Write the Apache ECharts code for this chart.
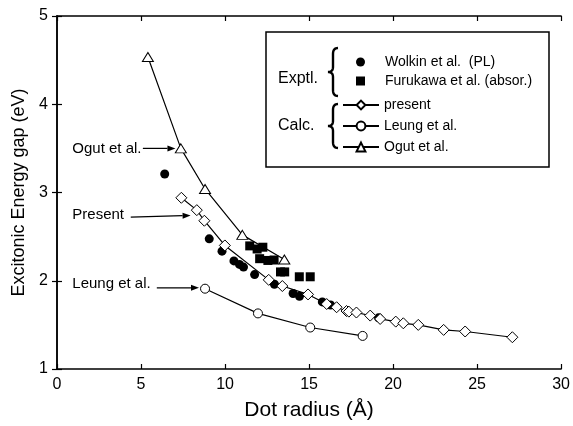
<!DOCTYPE html>
<html>
<head>
<meta charset="utf-8">
<script src="https://cdn.jsdelivr.net/npm/echarts@6/dist/echarts.min.js"></script>
<style>html,body{margin:0;padding:0;background:#fff}#c{width:573px;height:426px}</style>
</head>
<body>
<div id="c"></div>
<script>
// ---- data ----
const presentR = [7.40, 8.32, 8.77, 9.99, 12.60, 13.41, 14.94, 16.05, 16.64, 17.23, 17.37, 17.82, 18.64, 19.23, 20.16, 20.61, 21.50, 23.01, 24.29, 27.10];
const presentE = [2.94, 2.80, 2.68, 2.40, 2.01, 1.94, 1.845, 1.736, 1.70, 1.657, 1.65, 1.64, 1.605, 1.567, 1.537, 1.518, 1.50, 1.443, 1.425, 1.36];
const leungR = [8.81, 11.96, 15.07, 18.19];
const leungE = [1.91, 1.63, 1.47, 1.375];
const ogutR = [5.41, 7.37, 8.81, 11.03, 13.53];
const ogutE = [4.535, 3.50, 3.04, 2.52, 2.24];
const wolkinR = [6.41, 9.06, 9.82, 10.53, 10.86, 11.10, 11.76, 12.94, 14.05, 14.43, 15.79, 16.28, 19.14];
const wolkinE = [3.21, 2.475, 2.335, 2.225, 2.185, 2.155, 2.07, 1.96, 1.855, 1.823, 1.76, 1.725, 1.58];
const furukawaR = [11.47, 11.91, 12.25, 12.06, 12.55, 12.92, 13.30, 13.55, 14.42, 15.07];
const furukawaE = [2.395, 2.36, 2.38, 2.25, 2.23, 2.235, 2.10, 2.10, 2.045, 2.045];

const seriesNames = ['Wolkin et al.  (PL)', 'Furukawa et al. (absor.)', 'present', 'Leung et al.', 'Ogut et al.'];
// annotation labels: [text, textX, textY, arrowFromX, arrowFromY, arrowToX, arrowToY] in data units
const annotations = [
  ['Ogut et al.', 0.91, 3.50, 5.11, 3.50, 7.05, 3.50],
  ['Present', 0.91, 2.75, 4.39, 2.72, 7.95, 2.74],
  ['Leung et al.', 0.91, 1.96, 5.94, 1.92, 8.45, 1.92]
];

const zip = (a, b) => a.map((v, i) => [v, b[i]]);
const FONT = 'Liberation Sans, Arial, Helvetica, sans-serif';

const chart = echarts.init(document.getElementById('c'), null, {renderer: 'canvas'});

const axisCommon = {
  axisLine: {show: true, lineStyle: {color: '#000', width: 1.5}},
  axisTick: {show: true, inside: true, length: 5, lineStyle: {color: '#000', width: 1.2}},
  splitLine: {show: false}
};

const option = {
  backgroundColor: '#fff',
  animation: false,
  grid: {left: 57, right: 7, top: 16, bottom: 55, show: false},
  xAxis: [
    Object.assign({}, axisCommon, {
      type: 'value', min: 0, max: 30, interval: 5,
      name: 'Dot radius (Å)', nameLocation: 'middle', nameGap: 31,
      nameTextStyle: {fontFamily: FONT, fontSize: 21, color: '#000'},
      axisLabel: {fontFamily: FONT, fontSize: 16, color: '#000', margin: 8}
    }),
    Object.assign({}, axisCommon, {
      type: 'value', min: 0, max: 30, interval: 5, position: 'top',
      axisLabel: {show: false}
    })
  ],
  yAxis: [
    Object.assign({}, axisCommon, {
      type: 'value', min: 1, max: 5, interval: 1,
      name: 'Excitonic Energy gap (eV)', nameLocation: 'middle', nameGap: 29,
      nameTextStyle: {fontFamily: FONT, fontSize: 18, color: '#000'},
      axisLabel: {fontFamily: FONT, fontSize: 16, color: '#000', margin: 9}
    }),
    Object.assign({}, axisCommon, {
      type: 'value', min: 1, max: 5, interval: 1, position: 'right',
      axisLabel: {show: false}
    })
  ],
  legend: [
    {
      data: [
        {name: seriesNames[0], icon: 'circle'},
        {name: seriesNames[1], icon: 'rect'}
      ],
      orient: 'vertical', left: 356, top: 55, padding: 0,
      itemWidth: 9, itemHeight: 9, itemGap: 5,
      textStyle: {fontFamily: FONT, fontSize: 14, color: '#000', padding: [0, 0, 0, 15]},
      selectedMode: false, z: 70
    },
    {
      data: [seriesNames[2], seriesNames[3], seriesNames[4]],
      orient: 'vertical', left: 342, top: 98, padding: 0,
      itemWidth: 36, itemHeight: 11, itemGap: 7,
      textStyle: {fontFamily: FONT, fontSize: 14, color: '#000'},
      selectedMode: false, z: 70
    }
  ],
  series: [
    {
      name: seriesNames[0], type: 'scatter', data: zip(wolkinR, wolkinE),
      symbol: 'circle', symbolSize: 9, itemStyle: {color: '#000', opacity: 1}, z: 3
    },
    {
      name: seriesNames[1], type: 'scatter', data: zip(furukawaR, furukawaE),
      symbol: 'rect', symbolSize: 9, itemStyle: {color: '#000', opacity: 1}, z: 3
    },
    {
      name: seriesNames[2], type: 'line', data: zip(presentR, presentE),
      symbol: 'diamond', symbolSize: 11, showAllSymbol: true,
      lineStyle: {color: '#000', width: 1.2},
      itemStyle: {color: '#fff', borderColor: '#000', borderWidth: 1}, z: 4
    },
    {
      name: seriesNames[3], type: 'line', data: zip(leungR, leungE),
      symbol: 'circle', symbolSize: 9, showAllSymbol: true,
      lineStyle: {color: '#000', width: 1.2},
      itemStyle: {color: '#fff', borderColor: '#000', borderWidth: 1}, z: 4
    },
    {
      name: seriesNames[4], type: 'line', data: zip(ogutR, ogutE),
      symbol: 'triangle', symbolSize: [11, 9], showAllSymbol: true,
      lineStyle: {color: '#000', width: 1.2},
      itemStyle: {color: '#fff', borderColor: '#000', borderWidth: 1}, z: 4
    }
  ]
};
chart.setOption(option);

// ---- legend frame, braces, group labels, annotations ----
function quad(p0, c, p1, out) {
  for (let i = 0; i <= 8; i++) {
    const t = i / 8, u = 1 - t;
    out.push([u * u * p0[0] + 2 * u * t * c[0] + t * t * p1[0], u * u * p0[1] + 2 * u * t * c[1] + t * t * p1[1]]);
  }
}
function bracePoints(xTip, y0, y1) {
  const xb = xTip + 5, ym = (y0 + y1) / 2, pts = [];
  quad([xb + 5, y0], [xb, y0], [xb, y0 + 6], pts);
  quad([xb, ym - 5], [xb, ym], [xTip, ym], pts);
  quad([xTip, ym], [xb, ym], [xb, ym + 5], pts);
  quad([xb, y1 - 6], [xb, y1], [xb + 5, y1], pts);
  return pts;
}

const graphics = [
  {type: 'rect', shape: {x: 266, y: 32, width: 283, height: 135}, style: {fill: '#fff', stroke: '#000', lineWidth: 1.5}, z: 50},
  {type: 'text', x: 278, y: 79, style: {text: 'Exptl.', fontFamily: FONT, fontSize: 16, fill: '#000', verticalAlign: 'middle'}, z: 60},
  {type: 'text', x: 278, y: 126, style: {text: 'Calc.', fontFamily: FONT, fontSize: 16, fill: '#000', verticalAlign: 'middle'}, z: 60},
  {type: 'polyline', shape: {points: bracePoints(328, 48, 96)}, style: {fill: null, stroke: '#000', lineWidth: 2.4}, z: 60},
  {type: 'polyline', shape: {points: bracePoints(328, 104, 148)}, style: {fill: null, stroke: '#000', lineWidth: 2.4}, z: 60}
];

annotations.forEach(a => {
  const t = chart.convertToPixel({xAxisIndex: 0, yAxisIndex: 0}, [a[1], a[2]]);
  const p0 = chart.convertToPixel({xAxisIndex: 0, yAxisIndex: 0}, [a[3], a[4]]);
  const p1 = chart.convertToPixel({xAxisIndex: 0, yAxisIndex: 0}, [a[5], a[6]]);
  graphics.push({type: 'text', x: t[0], y: t[1], style: {text: a[0], fontFamily: FONT, fontSize: 15, fill: '#000', verticalAlign: 'middle'}, z: 60});
  const ang = Math.atan2(p1[1] - p0[1], p1[0] - p0[0]);
  const L = 8, W = 3;
  const bx = p1[0] - L * Math.cos(ang), by = p1[1] - L * Math.sin(ang);
  graphics.push({type: 'line', shape: {x1: p0[0], y1: p0[1], x2: bx, y2: by}, style: {stroke: '#000', lineWidth: 1.2}, z: 60});
  graphics.push({type: 'polygon', shape: {points: [
    [p1[0], p1[1]],
    [bx - W * Math.sin(ang), by + W * Math.cos(ang)],
    [bx + W * Math.sin(ang), by - W * Math.cos(ang)]
  ]}, style: {fill: '#000'}, z: 60});
});

chart.setOption({graphic: graphics});
</script>
</body>
</html>
